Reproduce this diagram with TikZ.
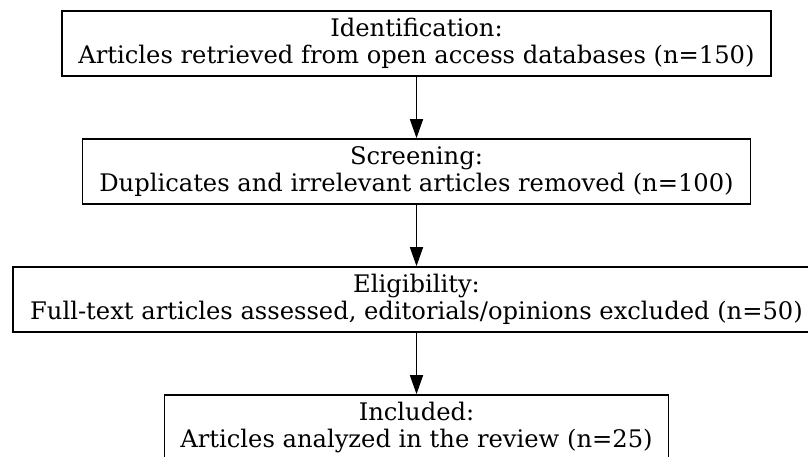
\documentclass[tikz,border=0pt]{standalone}
\usepackage{fontspec}
\setmainfont{DejaVu Serif}
\usetikzlibrary{arrows.meta}
\begin{document}
\begin{tikzpicture}[x=1pt,y=-1pt,
  stage/.style={draw,line width=1.6pt,align=center,inner sep=0pt,minimum height=65pt,
    font=\fontsize{24.2}{27.5}\selectfont},
  flow/.style={line width=1.5pt,-{Triangle[length=19pt,width=13pt]}}]
\useasboundingbox (0,0) rectangle (808,457);
\node[stage,minimum width=709pt] (id) at (416.5,43.5) {Identification:\\Articles retrieved from open access databases (n=150)};
\node[stage,minimum width=668pt] (sc) at (416.5,171.5) {Screening:\\Duplicates and irrelevant articles removed (n=100)};
\node[stage,minimum width=807pt] (el) at (416.5,299.5) {Eligibility:\\Full-text articles assessed, editorials/opinions excluded (n=50)};
\node[stage,minimum width=504pt] (in) at (416.5,427.5) {Included:\\Articles analyzed in the review (n=25)};
\draw[flow] (id) -- (sc);
\draw[flow] (sc) -- (el);
\draw[flow] (el) -- (in);
\end{tikzpicture}
\end{document}
